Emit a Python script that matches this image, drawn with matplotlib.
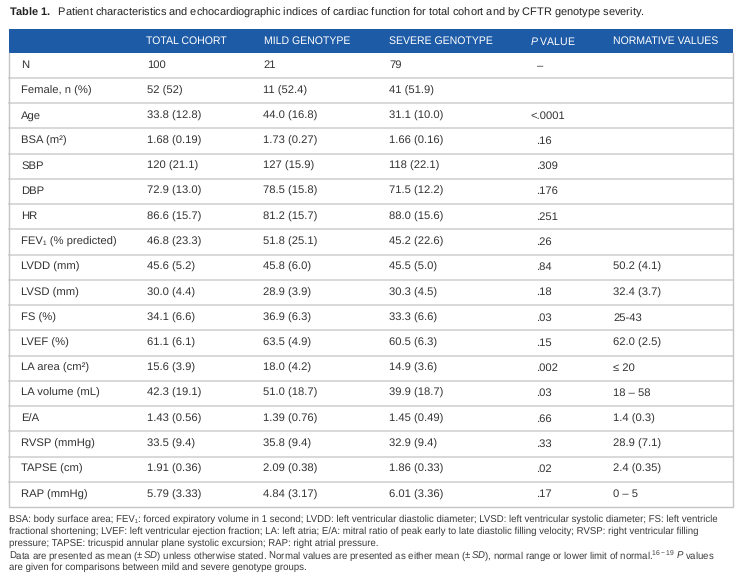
import matplotlib
matplotlib.use("Agg")
import matplotlib.pyplot as plt
from matplotlib.patches import Rectangle

plt.rcParams['font.family'] = ['Liberation Sans', 'DejaVu Sans']
plt.rcParams['mathtext.fontset'] = 'custom'
plt.rcParams['mathtext.rm'] = 'Liberation Sans'
plt.rcParams['mathtext.it'] = 'Liberation Sans:italic'
plt.rcParams['mathtext.bf'] = 'Liberation Sans:bold'
plt.rcParams['text.hinting'] = 'no_hinting'

# --------------------------
# Table data
# --------------------------
columns = ["TOTAL COHORT", "MILD GENOTYPE", "SEVERE GENOTYPE", r"$\it{P}$ VALUE", "NORMATIVE VALUES"]

row_labels = ["N", "Female, n (%)", "Age", "BSA (m\u00b2)", "SBP", "DBP", "HR",
              "FEV\u2081 (% predicted)", "LVDD (mm)", "LVSD (mm)", "FS (%)", "LVEF (%)",
              "LA area (cm\u00b2)", "LA volume (mL)", "E/A", "RVSP (mmHg)", "TAPSE (cm)", "RAP (mmHg)"]

total = ["100", "52 (52)", "33.8 (12.8)", "1.68 (0.19)", "120 (21.1)", "72.9 (13.0)", "86.6 (15.7)",
         "46.8 (23.3)", "45.6 (5.2)", "30.0 (4.4)", "34.1 (6.6)", "61.1 (6.1)", "15.6 (3.9)",
         "42.3 (19.1)", "1.43 (0.56)", "33.5 (9.4)", "1.91 (0.36)", "5.79 (3.33)"]

mild = ["21", "11 (52.4)", "44.0 (16.8)", "1.73 (0.27)", "127 (15.9)", "78.5 (15.8)", "81.2 (15.7)",
        "51.8 (25.1)", "45.8 (6.0)", "28.9 (3.9)", "36.9 (6.3)", "63.5 (4.9)", "18.0 (4.2)",
        "51.0 (18.7)", "1.39 (0.76)", "35.8 (9.4)", "2.09 (0.38)", "4.84 (3.17)"]

severe = ["79", "41 (51.9)", "31.1 (10.0)", "1.66 (0.16)", "118 (22.1)", "71.5 (12.2)", "88.0 (15.6)",
          "45.2 (22.6)", "45.5 (5.0)", "30.3 (4.5)", "33.3 (6.6)", "60.5 (6.3)", "14.9 (3.6)",
          "39.9 (18.7)", "1.45 (0.49)", "32.9 (9.4)", "1.86 (0.33)", "6.01 (3.36)"]

p_values = ["\u2013", "", "<.0001", ".16", ".309", ".176", ".251", ".26", ".84", ".18", ".03",
            ".15", ".002", ".03", ".66", ".33", ".02", ".17"]

normative = ["", "", "", "", "", "", "", "", "50.2 (4.1)", "32.4 (3.7)", "25-43", "62.0 (2.5)",
             "\u2264 20", "18 \u2013 58", "1.4 (0.3)", "28.9 (7.1)", "2.4 (0.35)", "0 \u2013 5"]

title = r"$\bf{Table\ 1.}$  Patient characteristics and echocardiographic indices of cardiac function for total cohort and by CFTR genotype severity."

footnotes = [
    "BSA: body surface area; FEV\u2081: forced expiratory volume in 1 second; LVDD: left ventricular diastolic diameter; LVSD: left ventricular systolic diameter; FS: left ventricle",
    "fractional shortening; LVEF: left ventricular ejection fraction; LA: left atria; E/A: mitral ratio of peak early to late diastolic filling velocity; RVSP: right ventricular filling",
    "pressure; TAPSE: tricuspid annular plane systolic excursion; RAP: right atrial pressure.",
    r"Data are presented as mean ($\pm\,\it{SD}$) unless otherwise stated. Normal values are presented as either mean ($\pm\,\it{SD}$), normal range or lower limit of normal.$^{16-19}$ $\it{P}$ values",
    "are given for comparisons between mild and severe genotype groups.",
]

# --------------------------
# Layout
# --------------------------
W, H = 742, 578
left, right = 9, 733
head_top, head_bot = 29, 52.5
table_bot = 507
row_h = (table_bot - head_bot) / len(row_labels)
col_x = [21, 147, 263, 389, 537, 613]
head_x = [146, 264, 389, 530, 613]

blue = "#1d5ba7"
grid = "#d2d2d2"
txt = "#333333"

fig = plt.figure(figsize=(W / 100, H / 100), dpi=100)
ax = fig.add_axes([0, 0, 1, 1])
ax.set_xlim(0, W)
ax.set_ylim(H, 0)
ax.axis("off")

# title
ax.text(left, 13, title, fontsize=7.95, color="#222222", va="center", ha="left")

# header band
ax.add_patch(Rectangle((left, head_top), right - left, head_bot - head_top, color=blue, lw=0))
for x, name in zip(head_x, columns):
    ax.text(x, (head_top + head_bot) / 2 + 0.5, name, fontsize=7.6, color="white", va="center", ha="left")

# grid lines
for i in range(1, len(row_labels)):
    y = head_bot + i * row_h
    ax.plot([left, right], [y, y], color=grid, lw=1.2)
ax.plot([left, left, right, right], [head_bot, table_bot, table_bot, head_bot], color="#c4c4c4", lw=1.0)

# cells
for i in range(len(row_labels)):
    y = head_bot + (i + 0.5) * row_h
    cells = [row_labels[i], total[i], mild[i], severe[i], p_values[i], normative[i]]
    for x, s in zip(col_x, cells):
        if s:
            xx = x - 7 if s.startswith("<") else x
            ax.text(xx, y, s, fontsize=8.1, color=txt, va="center", ha="left")

# footnotes
for k, line in enumerate(footnotes):
    ax.text(left, 519 + k * 12.2, line, fontsize=6.9, color="#3a3a3a", va="center", ha="left")

fig.savefig("out.png", dpi=100)
plt.close(fig)
